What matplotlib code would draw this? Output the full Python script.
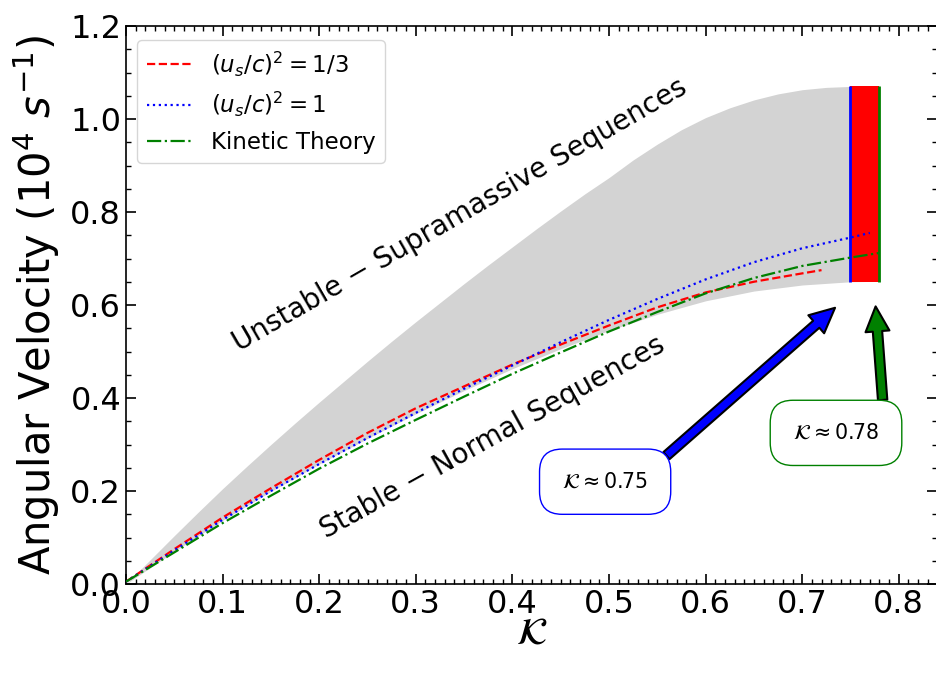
import matplotlib
matplotlib.use("Agg")
import matplotlib.pyplot as plt
import numpy as np

# ---- data ----
kappa_upper = [0.0, 0.025, 0.05, 0.075, 0.1, 0.125, 0.15, 0.175, 0.2, 0.225, 0.25, 0.275, 0.3,
               0.325, 0.35, 0.375, 0.4, 0.425, 0.45, 0.475, 0.5, 0.525, 0.55, 0.575, 0.6,
               0.625, 0.65, 0.675, 0.7, 0.725, 0.75, 0.78]
band_upper = [0.0, 0.052, 0.104, 0.155, 0.205, 0.253, 0.300, 0.346, 0.391, 0.435, 0.479, 0.522, 0.564,
              0.605, 0.646, 0.686, 0.725, 0.764, 0.802, 0.839, 0.874, 0.912, 0.946, 0.977, 1.003,
              1.024, 1.041, 1.054, 1.063, 1.068, 1.070, 1.071]
kappa_lower = [0.0, 0.05, 0.1, 0.15, 0.2, 0.25, 0.3, 0.35, 0.4, 0.45, 0.5, 0.55, 0.6, 0.65, 0.7, 0.75, 0.78]
band_lower = [0.0, 0.070, 0.137, 0.199, 0.258, 0.313, 0.366, 0.416, 0.463, 0.506, 0.545, 0.580, 0.609, 0.630, 0.643, 0.650, 0.651]

kappa_red = [0.0, 0.05, 0.1, 0.15, 0.2, 0.25, 0.3, 0.35, 0.4, 0.45, 0.5, 0.55, 0.6, 0.65, 0.7, 0.72]
omega_red = [0.005, 0.075, 0.143, 0.206, 0.267, 0.325, 0.378, 0.425, 0.472, 0.515, 0.556, 0.595, 0.627, 0.650, 0.668, 0.675]

kappa_blue = [0.0, 0.05, 0.1, 0.15, 0.2, 0.25, 0.3, 0.35, 0.4, 0.45, 0.5, 0.55, 0.6, 0.65, 0.7, 0.75, 0.77]
omega_blue = [0.005, 0.072, 0.138, 0.200, 0.258, 0.314, 0.368, 0.420, 0.470, 0.520, 0.568, 0.613, 0.655, 0.692, 0.722, 0.745, 0.755]

kappa_green = [0.0, 0.05, 0.1, 0.15, 0.2, 0.25, 0.3, 0.35, 0.4, 0.45, 0.5, 0.55, 0.6, 0.65, 0.7, 0.75, 0.78]
omega_green = [0.005, 0.068, 0.131, 0.190, 0.248, 0.302, 0.353, 0.403, 0.452, 0.498, 0.543, 0.585, 0.625, 0.658, 0.684, 0.702, 0.712]

kappa_limits = [0.75, 0.78]
red_band_y = [0.65, 1.07]

labels = [r'$(u_s/c)^2=1/3$', r'$(u_s/c)^2=1$', 'Kinetic Theory']

fig = plt.figure(figsize=(9.36, 6.73), dpi=100)
ax = fig.add_axes([126/936, 89/673, 0.84*966/936, 558/673])

# shaded band: put the read lower edge onto the upper-edge grid
lower_on_upper = np.interp(kappa_upper, kappa_lower, band_lower)
ax.fill_between(kappa_upper, lower_on_upper, band_upper, color='lightgray', lw=0, zorder=1)
ax.fill_between(kappa_limits, [red_band_y[0]] * 2, [red_band_y[1]] * 2, color='red', lw=0, zorder=2)
ax.vlines(kappa_limits[0], red_band_y[0], red_band_y[1], color='blue', lw=2, zorder=3)
ax.vlines(kappa_limits[1], red_band_y[0], red_band_y[1], color='green', lw=2, zorder=3)

ax.plot(kappa_red, omega_red, color='red', ls='--', lw=1.6, label=labels[0], zorder=4)
ax.plot(kappa_blue, omega_blue, color='blue', ls=':', lw=1.6, label=labels[1], zorder=4)
ax.plot(kappa_green, omega_green, color='green', ls='-.', lw=1.6, label=labels[2], zorder=4)

ax.set_xlim(0, 0.84)
ax.set_ylim(0, 1.2)
ax.set_xticks(np.arange(0, 0.81, 0.1))
ax.set_yticks(np.arange(0, 1.21, 0.2))
ax.xaxis.set_minor_locator(matplotlib.ticker.MultipleLocator(0.01))
ax.yaxis.set_minor_locator(matplotlib.ticker.MultipleLocator(0.05))
ax.tick_params(which='both', direction='in', top=True, right=True, labelsize=23)
ax.tick_params(which='major', length=7, width=1.2)
ax.tick_params(which='minor', length=3.5, width=1.0)
for s in ax.spines.values():
    s.set_linewidth(1.2)

ax.set_xlabel(r'$\mathcal{K}$', fontsize=27, labelpad=-3)
ax.set_ylabel(r'Angular Velocity ($10^4$ $s^{-1}$)', fontsize=30, labelpad=6)

ax.text(0.346, 0.794, 'Unstable − Supramassive Sequences', fontsize=20,
        rotation=30, ha='center', va='center')
ax.text(0.379, 0.316, 'Stable − Normal Sequences', fontsize=20,
        rotation=29, ha='center', va='center')

ax.annotate(r'$\mathcal{K}\approx 0.75$', xy=(0.734, 0.594), xytext=(0.496, 0.220),
            fontsize=14.8, ha='center', va='center',
            bbox=dict(boxstyle='round,pad=1.1', fc='white', ec='blue', lw=1),
            arrowprops=dict(arrowstyle='simple,head_width=1.15,head_length=1.2,tail_width=0.45',
                            fc='blue', ec='black', lw=1.5, mutation_scale=15,
                            shrinkA=0, shrinkB=0, relpos=(1.0, 1.0)))
ax.annotate(r'$\mathcal{K}\approx 0.78$', xy=(0.776, 0.597), xytext=(0.735, 0.325),
            fontsize=14.8, ha='center', va='center',
            bbox=dict(boxstyle='round,pad=1.1', fc='white', ec='green', lw=1),
            arrowprops=dict(arrowstyle='simple,head_width=1.15,head_length=1.2,tail_width=0.45',
                            fc='green', ec='black', lw=1.5, mutation_scale=15,
                            shrinkA=0, shrinkB=0, relpos=(1.06, 1.0)))

ax.legend(loc='upper left', fontsize=16.5, bbox_to_anchor=(0.0, 0.995))

fig.savefig('out.png', dpi=100)
